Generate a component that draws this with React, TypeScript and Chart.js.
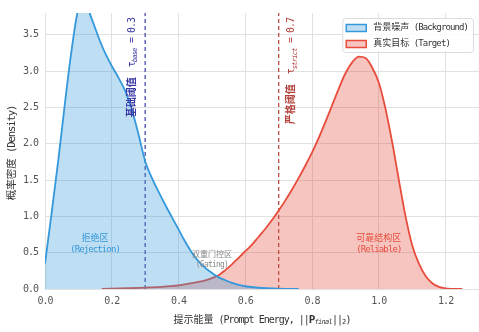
import React, { useEffect, useRef } from 'react';
import { Chart, registerables } from 'chart.js';

Chart.register(...registerables);

// ---- data ----
const bgX = [0.0, 0.02, 0.04, 0.06, 0.08, 0.10, 0.12, 0.14, 0.16, 0.18, 0.20, 0.22, 0.24, 0.26, 0.28, 0.30, 0.32, 0.34, 0.36, 0.38, 0.40, 0.42, 0.44, 0.46, 0.48, 0.50, 0.52, 0.54, 0.56, 0.58, 0.60, 0.64, 0.68, 0.72, 0.76];
const bgY = [0.35, 1.05, 1.78, 2.57, 3.30, 3.85, 3.93, 3.72, 3.47, 3.25, 3.07, 2.91, 2.73, 2.47, 2.13, 1.76, 1.53, 1.34, 1.16, 0.99, 0.82, 0.65, 0.50, 0.38, 0.29, 0.22, 0.16, 0.12, 0.085, 0.058, 0.038, 0.017, 0.007, 0.002, 0.0];

const tgX = [0.17, 0.25, 0.30, 0.35, 0.40, 0.44, 0.48, 0.50, 0.52, 0.54, 0.56, 0.58, 0.60, 0.62, 0.64, 0.66, 0.68, 0.70, 0.72, 0.74, 0.76, 0.78, 0.80, 0.82, 0.84, 0.86, 0.88, 0.90, 0.92, 0.94, 0.96, 0.98, 1.00, 1.02, 1.04, 1.06, 1.08, 1.10, 1.12, 1.14, 1.16, 1.18, 1.20, 1.25];
const tgY = [0.0, 0.01, 0.02, 0.03, 0.05, 0.08, 0.12, 0.15, 0.19, 0.26, 0.34, 0.43, 0.52, 0.61, 0.72, 0.83, 0.95, 1.08, 1.22, 1.37, 1.53, 1.70, 1.88, 2.08, 2.30, 2.53, 2.76, 2.97, 3.12, 3.20, 3.18, 3.05, 2.84, 2.48, 2.02, 1.50, 1.00, 0.60, 0.35, 0.18, 0.08, 0.03, 0.01, 0.0];

const xTicks = [0.0, 0.2, 0.4, 0.6, 0.8, 1.0, 1.2];
const yTicks = [0.0, 0.5, 1.0, 1.5, 2.0, 2.5, 3.0, 3.5];
const tauBase = 0.3;
const tauStrict = 0.7;
const X_MIN = 0;
const X_MAX = 1.3;
const Y_MIN = 0;
const Y_MAX = 3.8;

const seriesNames = ['背景噪声', '真实目标'];
const seriesNamesEn = ['(Background)', '(Target)'];

// ---- styles ----
const BLUE = '#3498db';
const BLUE_FILL = 'rgba(52,152,219,0.32)';
const RED = '#e74c3c';
const RED_FILL = 'rgba(231,76,60,0.32)';
const NAVY = '#3a3aa6';
const DRED = '#b3403a';
const FAM = "'DejaVu Sans Mono', 'Noto Sans CJK SC', sans-serif";

type Seg = { t: string; size: number; bold?: boolean; italic?: boolean; dy?: number };

function segFont(s: Seg) {
  return `${s.italic ? 'italic ' : ''}${s.bold ? 'bold ' : ''}${s.size}px ${FAM}`;
}
function segLS(s: Seg) {
  return /[\u3000-\u9fff\uff00-\uffef]/.test(s.t) ? '0px' : `${(-0.1 * s.size).toFixed(2)}px`;
}
function applySeg(ctx: any, s: Seg) {
  ctx.font = segFont(s);
  ctx.letterSpacing = segLS(s);
}
function measureSegs(ctx: any, segs: Seg[]) {
  let w = 0;
  for (const s of segs) {
    applySeg(ctx, s);
    w += ctx.measureText(s.t).width;
  }
  return w;
}
function drawSegs(ctx: any, segs: Seg[], x: number, y: number, align: string, color: string) {
  const w = measureSegs(ctx, segs);
  let cx = align === 'center' ? x - w / 2 : align === 'right' ? x - w : x;
  ctx.textAlign = 'left';
  ctx.textBaseline = 'middle';
  ctx.fillStyle = color;
  for (const s of segs) {
    applySeg(ctx, s);
    ctx.fillText(s.t, cx, y + (s.dy || 0));
    cx += ctx.measureText(s.t).width;
  }
  return w;
}

const decor = {
  id: 'decor',
  beforeDraw(chart: any) {
    chart.ctx.letterSpacing = '-1px';
  },
  afterDatasetsDraw(chart: any) {
    const ctx = chart.ctx;
    const xs = chart.scales.x;
    const ys = chart.scales.y;
    const top = chart.chartArea.top;
    ctx.save();

    // zone annotations
    const zone = (x: number, y1: number, y2: number, a: string, b: string, size: number, color: string) => {
      drawSegs(ctx, [{ t: a, size }], xs.getPixelForValue(x), ys.getPixelForValue(y1), 'center', color);
      drawSegs(ctx, [{ t: b, size }], xs.getPixelForValue(x), ys.getPixelForValue(y2), 'center', color);
    };
    zone(0.15, 0.70, 0.54, '拒绝区', '(Rejection)', 9, BLUE);
    zone(0.50, 0.47, 0.33, '双重门控区', '(Gating)', 8, '#8a8a8a');
    zone(1.0, 0.69, 0.54, '可靠结构区', '(Reliable)', 9, RED);

    // threshold labels (rotated)
    const rot = (xPix: number, segs: Seg[], color: string) => {
      const w = measureSegs(ctx, segs);
      ctx.save();
      ctx.translate(xPix, top + 5 + w);
      ctx.rotate(-Math.PI / 2);
      drawSegs(ctx, segs, 0, 0, 'left', color);
      ctx.restore();
    };
    rot(xs.getPixelForValue(tauBase) - 13, [
      { t: '基础阈值', size: 10, bold: true },
      { t: '  τ', size: 10 },
      { t: 'base', size: 7, italic: true, dy: 3 },
      { t: ' = ' + tauBase.toFixed(1), size: 10 },
    ], NAVY);
    rot(xs.getPixelForValue(tauStrict) + 13, [
      { t: '严格阈值', size: 10, bold: true },
      { t: '  τ', size: 10 },
      { t: 'strict', size: 7, italic: true, dy: 3 },
      { t: ' = ' + tauStrict.toFixed(1), size: 10 },
    ], DRED);
    ctx.restore();
  },
  afterDraw(chart: any) {
    const ctx = chart.ctx;
    const ca = chart.chartArea;
    ctx.save();

    // legend
    const rows: Seg[][] = [0, 1].map((i) => [
      { t: seriesNames[i], size: 9 },
      { t: ' ' + seriesNamesEn[i], size: 9 },
    ]);
    const tw = Math.max(...rows.map((r) => measureSegs(ctx, r)));
    const boxW = 4 + 20 + 7 + tw + 5;
    const R = ca.right - 6;
    const L = R - boxW;
    const T = ca.top + 5;
    const H = 34;
    ctx.beginPath();
    (ctx as any).roundRect(L + 0.5, T + 0.5, boxW, H, 3);
    ctx.fillStyle = 'rgba(255,255,255,0.85)';
    ctx.fill();
    ctx.strokeStyle = '#dcdcdc';
    ctx.lineWidth = 1;
    ctx.stroke();
    const fills = [BLUE_FILL, RED_FILL];
    const lines = [BLUE, RED];
    rows.forEach((r, i) => {
      const cy = T + 10 + i * 16;
      ctx.fillStyle = '#ffffff';
      ctx.fillRect(L + 4, cy - 3.5, 20, 7);
      ctx.fillStyle = fills[i];
      ctx.fillRect(L + 4, cy - 3.5, 20, 7);
      ctx.strokeStyle = lines[i];
      ctx.lineWidth = 1.5;
      ctx.strokeRect(L + 4, cy - 3.5, 20, 7);
      drawSegs(ctx, r, L + 31, cy, 'left', '#333333');
    });

    // x title
    drawSegs(ctx, [
      { t: '提示能量', size: 10 },
      { t: ' (Prompt Energy, ||', size: 10 },
      { t: 'P', size: 11, bold: true },
      { t: 'final', size: 7, italic: true, dy: 2.5 },
      { t: '||', size: 10 },
      { t: '2', size: 7, dy: 2.5 },
      { t: ')', size: 10 },
    ], (ca.left + ca.right) / 2, 320, 'center', '#333333');

    // y title
    ctx.save();
    ctx.translate(12, (ca.top + ca.bottom) / 2 + 2);
    ctx.rotate(-Math.PI / 2);
    drawSegs(ctx, [
      { t: '概率密度', size: 10.5 },
      { t: ' (Density)', size: 10.5 },
    ], 0, 0, 'center', '#333333');
    ctx.restore();

    ctx.restore();
    ctx.letterSpacing = '0px';
  },
};

export default function App() {
  const ref = useRef<HTMLCanvasElement | null>(null);

  useEffect(() => {
    if (!ref.current) return;
    const bg = bgX.map((x, i) => ({ x, y: bgY[i] }));
    const tg = tgX.map((x, i) => ({ x, y: tgY[i] }));
    const chart = new Chart(ref.current, {
      type: 'line',
      data: {
        datasets: [
          {
            label: seriesNames[0],
            data: bg,
            borderColor: BLUE,
            backgroundColor: BLUE_FILL,
            borderWidth: 1.8,
            fill: 'origin',
            pointRadius: 0,
            cubicInterpolationMode: 'monotone',
          },
          {
            label: seriesNames[1],
            data: tg,
            borderColor: RED,
            backgroundColor: RED_FILL,
            borderWidth: 1.8,
            fill: 'origin',
            pointRadius: 0,
            cubicInterpolationMode: 'monotone',
          },
          {
            label: 'base',
            data: [{ x: tauBase, y: Y_MIN }, { x: tauBase, y: Y_MAX }],
            borderColor: NAVY,
            borderWidth: 1.2,
            borderDash: [4, 3],
            fill: false,
            pointRadius: 0,
          },
          {
            label: 'strict',
            data: [{ x: tauStrict, y: Y_MIN }, { x: tauStrict, y: Y_MAX }],
            borderColor: DRED,
            borderWidth: 1.2,
            borderDash: [4, 3],
            fill: false,
            pointRadius: 0,
          },
        ],
      },
      options: {
        responsive: false,
        animation: false,
        devicePixelRatio: 1,
        layout: { padding: { top: 8, right: 0, left: 0, bottom: 0 } },
        plugins: { legend: { display: false }, tooltip: { enabled: false } },
        scales: {
          x: {
            type: 'linear',
            min: X_MIN,
            max: X_MAX,
            border: { display: false },
            grid: { color: '#e1e1e1', lineWidth: 1, drawTicks: false },
            ticks: {
              color: '#555555',
              padding: 6,
              font: { family: FAM, size: 10 },
              callback: (v: any) => Number(v).toFixed(1),
            },
            afterBuildTicks: (s: any) => {
              s.ticks = xTicks.map((v) => ({ value: v }));
            },
            afterFit: (s: any) => {
              s.height = 43;
            },
          },
          y: {
            type: 'linear',
            min: Y_MIN,
            max: Y_MAX,
            border: { display: false },
            grid: { color: '#e1e1e1', lineWidth: 1, drawTicks: false },
            ticks: {
              color: '#555555',
              padding: 7,
              font: { family: FAM, size: 10 },
              callback: (v: any) => Number(v).toFixed(1),
            },
            afterBuildTicks: (s: any) => {
              s.ticks = yTicks.map((v) => ({ value: v }));
            },
            afterFit: (s: any) => {
              s.width = 45;
            },
          },
        },
      } as any,
      plugins: [decor as any],
    });
    return () => chart.destroy();
  }, []);

  return (
    <div style={{ position: 'absolute', left: 0, top: 0, width: 479, height: 332, background: '#ffffff' }}>
      <canvas ref={ref} width={479} height={332} style={{ width: 479, height: 332, display: 'block' }} />
    </div>
  );
}
